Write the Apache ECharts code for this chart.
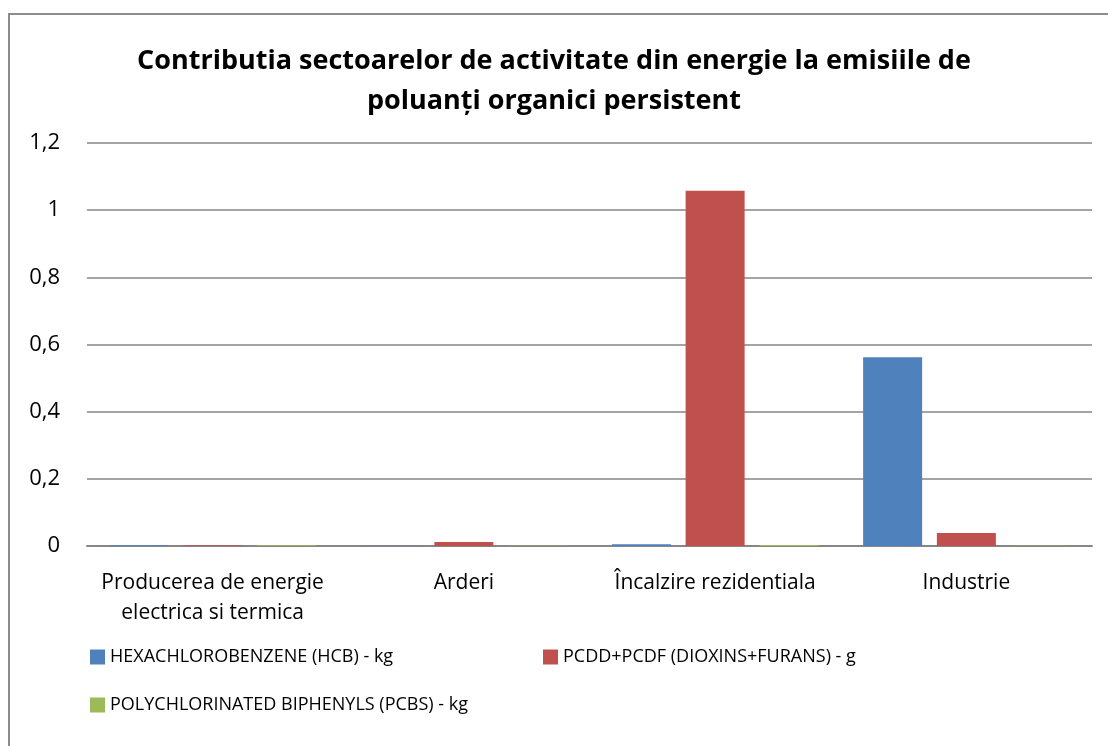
<!DOCTYPE html>
<html>
<head>
<meta charset="utf-8">
<script src="https://cdn.jsdelivr.net/npm/echarts@6/dist/echarts.min.js"></script>
<style>
  html, body { margin: 0; padding: 0; background: #fff; }
  #chart { width: 1108px; height: 746px; }
  .frame { position: absolute; left: 8px; top: 13px; width: 1120px; height: 760px; border: 2px solid #8c8c8c; box-sizing: border-box; pointer-events: none; }
</style>
</head>
<body>
<div id="chart"></div>
<div class="frame"></div>
<script>
// 数据
var categories = ['Producerea de energie\nelectrica si termica', 'Arderi', 'Încalzire rezidentiala', 'Industrie']
var seriesNames = [
  'HEXACHLOROBENZENE (HCB) - kg',
  'PCDD+PCDF (DIOXINS+FURANS) - g',
  'POLYCHLORINATED BIPHENYLS (PCBS) - kg'
]
var hcb = [0.002, 0.001, 0.005, 0.562]
var dioxins = [0.002, 0.012, 1.058, 0.039]
var pcbs = [0.002, 0.001, 0.003, 0.001]
var colors = ['#4f81bd', '#c0504d', '#9bbb59']

var font = 'Open Sans'
var chart = echarts.init(document.getElementById('chart'))

var legendBase = {
  icon: 'rect',
  itemWidth: 15,
  itemHeight: 15,
  itemGap: 8,
  textStyle: { fontFamily: font, fontSize: 18, color: '#000' }
}

var option = {
  animation: false,
  color: colors,
  title: {
    text: 'Contributia sectoarelor de activitate din energie la emisiile de\npoluanți organici persistent',
    left: 'center',
    top: 36,
    textStyle: { fontFamily: font, fontSize: 27, fontWeight: 'bold', color: '#000', lineHeight: 40 }
  },
  legend: [
    Object.assign({ data: [seriesNames[0]], left: 85, top: 643 }, legendBase),
    Object.assign({ data: [seriesNames[1]], left: 538, top: 643 }, legendBase),
    Object.assign({ data: [seriesNames[2]], left: 85, top: 691 }, legendBase)
  ],
  grid: { left: 87, right: 16, top: 143, height: 403 },
  xAxis: {
    type: 'category',
    data: categories,
    axisTick: { show: false },
    axisLine: { lineStyle: { color: '#868686', width: 2 } },
    axisLabel: { interval: 0, fontFamily: font, fontSize: 21, color: '#000', lineHeight: 30, margin: 22 }
  },
  yAxis: {
    type: 'value',
    min: 0,
    max: 1.2,
    interval: 0.2,
    axisLine: { show: false },
    axisTick: { show: false },
    splitLine: { lineStyle: { color: '#868686', width: 1.5 } },
    axisLabel: {
      fontFamily: font, fontSize: 22, color: '#000', margin: 27,
      formatter: function(v) { return String(Math.round(v * 10) / 10).replace('.', ',') }
    }
  },
  series: [
    { name: seriesNames[0], type: 'bar', data: hcb, barWidth: 59, barGap: '25%' },
    { name: seriesNames[1], type: 'bar', data: dioxins, barWidth: 59, barGap: '25%' },
    { name: seriesNames[2], type: 'bar', data: pcbs, barWidth: 59, barGap: '25%' }
  ]
}
chart.setOption(option)
</script>
</body>
</html>
